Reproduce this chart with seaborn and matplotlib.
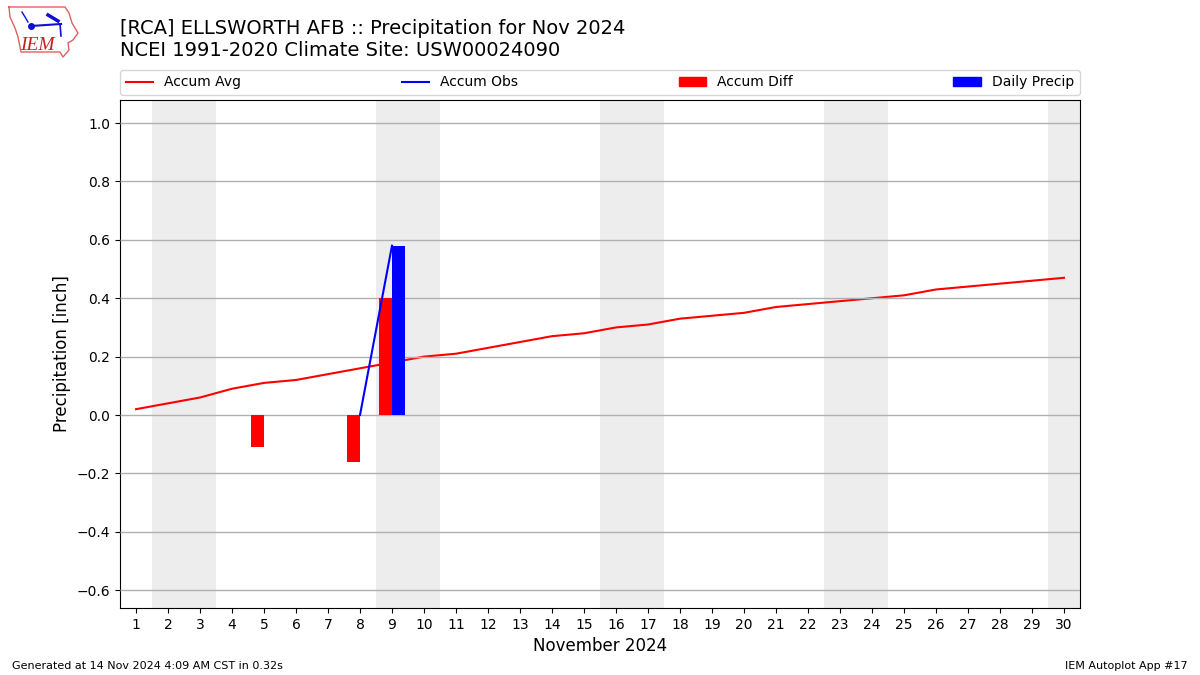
import numpy as np
import pandas as pd
import matplotlib
matplotlib.use("Agg")
import matplotlib.pyplot as plt
from matplotlib.patches import Patch
from matplotlib.lines import Line2D
import seaborn as sns

days = list(range(1, 31))
accum_avg = [0.02, 0.04, 0.06, 0.09, 0.11, 0.12, 0.14, 0.16, 0.18, 0.20,
             0.21, 0.23, 0.25, 0.27, 0.28, 0.30, 0.31, 0.33, 0.34, 0.35,
             0.37, 0.38, 0.39, 0.40, 0.41, 0.43, 0.44, 0.45, 0.46, 0.47]
obs_days = [8, 9]
accum_obs = [0.0, 0.58]
bar_days = [5, 8, 9]
accum_diff = [-0.11, -0.16, 0.40]
daily_precip = [0.0, 0.0, 0.58]
weekend_spans = [(1.5, 3.5), (8.5, 10.5), (15.5, 17.5), (22.5, 24.5), (29.5, 30.5)]
y_ticks = [-0.6, -0.4, -0.2, 0.0, 0.2, 0.4, 0.6, 0.8, 1.0]

title_text = "[RCA] ELLSWORTH AFB :: Precipitation for Nov 2024\nNCEI 1991-2020 Climate Site: USW00024090"
footer_left = "Generated at 14 Nov 2024 4:09 AM CST in 0.32s"
footer_right = "IEM Autoplot App #17"

logo_outline = [(9, 7), (65, 7), (69, 13), (72, 23), (78, 33), (73, 40), (68, 43),
                (69, 50), (63, 57), (60, 52), (21, 52), (18, 37), (15, 28), (10, 17), (9, 7)]

fig = plt.figure(figsize=(12, 6.75), dpi=100)
ax = fig.add_axes([120 / 1200, 1 - 608 / 675, 960 / 1200, 508 / 675])

for lo, hi in weekend_spans:
    ax.axvspan(lo, hi, color="#ededed", lw=0, zorder=0)

ax.grid(axis="y", color="#b0b0b0", lw=1, zorder=1)
ax.set_axisbelow(False)
for gl in ax.get_ygridlines():
    gl.set_zorder(1)

sns.lineplot(x=days, y=accum_avg, color="red", lw=1.5, ax=ax, zorder=2, legend=False)

bars = pd.DataFrame({
    "day": bar_days * 2,
    "value": accum_diff + daily_precip,
    "series": ["Accum Diff"] * 3 + ["Daily Precip"] * 3,
})
sns.barplot(data=bars, x="day", y="value", hue="series", native_scale=True,
            width=0.8, dodge=True, gap=0, palette={"Accum Diff": "red", "Daily Precip": "blue"},
            saturation=1, errorbar=None, legend=False, ax=ax, zorder=3, linewidth=0)

sns.lineplot(x=obs_days, y=accum_obs, color="blue", lw=1.5, ax=ax, zorder=4, legend=False)

ax.set_xlim(0.5, 30.5)
ax.set_ylim(-0.661, 1.079)
ax.set_xticks(days)
ax.set_xticklabels([str(d) for d in days])
ax.set_yticks(y_ticks)
ax.tick_params(labelsize=10)
ax.set_xlabel("November 2024", fontsize=12)
ax.set_ylabel("Precipitation [inch]", fontsize=12)

handles = [
    Line2D([], [], color="red", lw=1.5, label="Accum Avg"),
    Line2D([], [], color="blue", lw=1.5, label="Accum Obs"),
    Patch(color="red", label="Accum Diff"),
    Patch(color="blue", label="Daily Precip"),
]
ax.legend(handles=handles, loc="lower left", bbox_to_anchor=(0, 1.01, 1, 0.102),
          ncol=4, mode="expand", borderaxespad=0, fontsize=10)

fig.text(120 / 1200, 1 - 29 / 675, title_text.split("\n")[0], fontsize=14, va="center", ha="left")
fig.text(120 / 1200, 1 - 50 / 675, title_text.split("\n")[1], fontsize=14, va="center", ha="left")
fig.text(12 / 1200, 1 - 666 / 675, footer_left, fontsize=8, va="center", ha="left")
fig.text(1188 / 1200, 1 - 666 / 675, footer_right, fontsize=8, va="center", ha="right")

# logo
lg = fig.add_axes([0, 1 - 70 / 675, 130 / 1200, 70 / 675])
lg.set_xlim(0, 130)
lg.set_ylim(70, 0)
lg.axis("off")
ox, oy = zip(*logo_outline)
lg.plot(ox, oy, color="#e06060", lw=1)
lg.plot([31, 61], [26, 24], color="#1010d0", lw=1.5)
lg.plot([31], [26], "o", color="#1010d0", ms=4)
lg.plot([48, 58], [15, 21], color="#1010d0", lw=2.5)
lg.plot([60, 61], [24, 36], color="#1010d0", lw=1.2)
lg.plot([22, 28], [12, 22], color="#1010d0", lw=1)
lg.text(37, 45, "IEM", color="#c81e1e", fontsize=14, family="Liberation Serif",
        style="italic", ha="center", va="center")

fig.savefig("out.png", dpi=100)
